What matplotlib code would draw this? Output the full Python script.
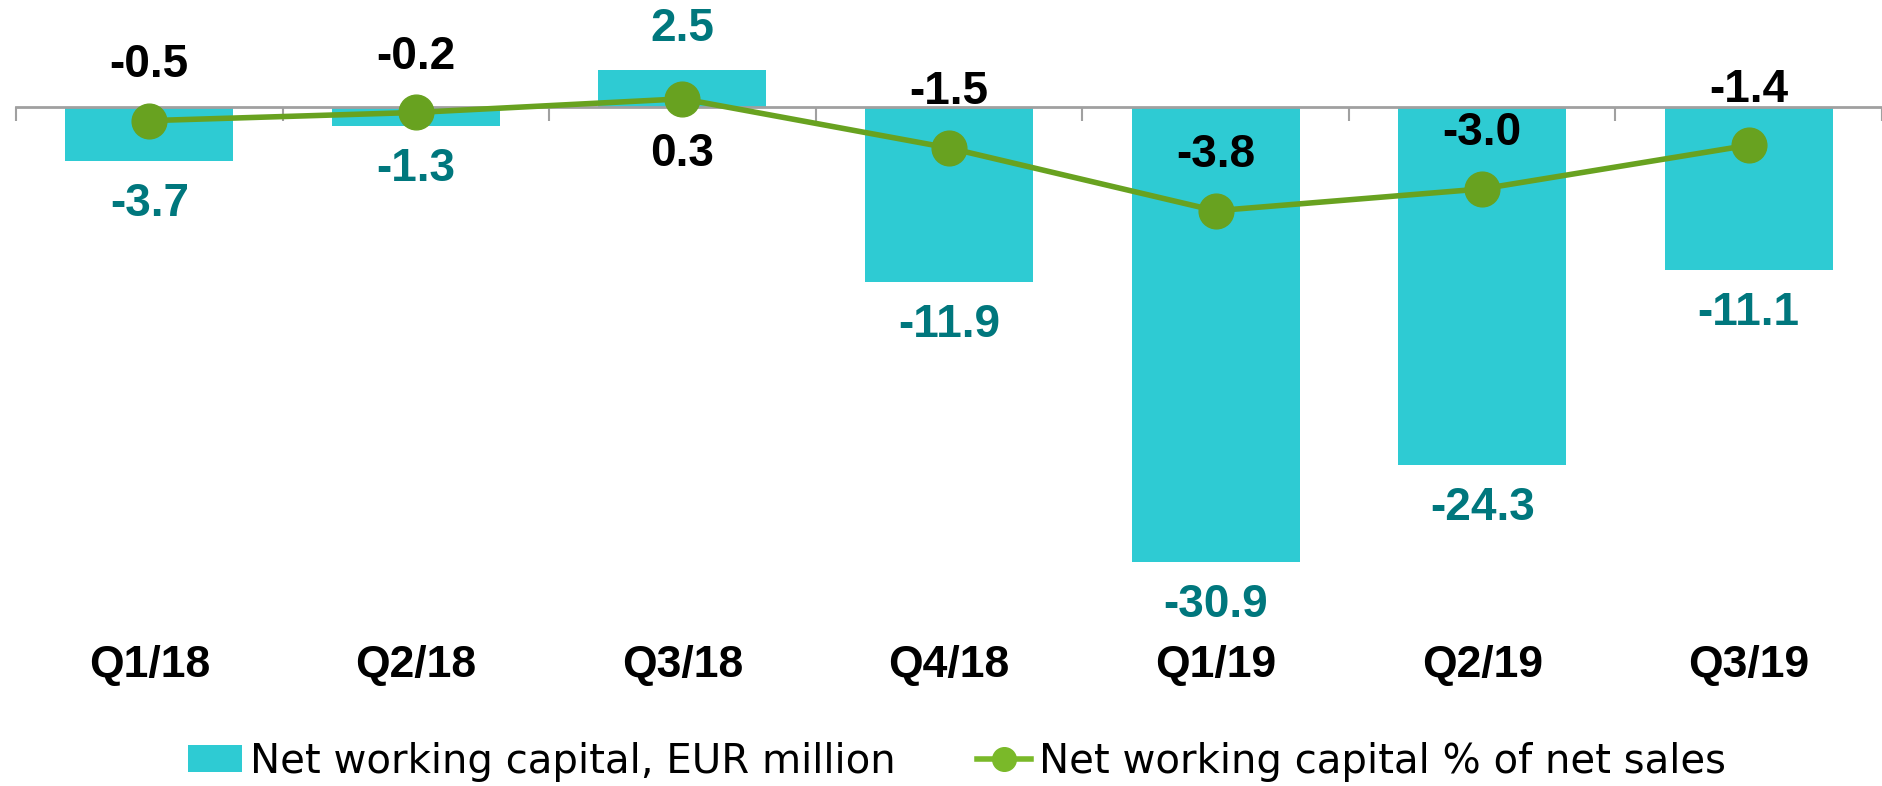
import numpy as np
import matplotlib.pyplot as plt
from matplotlib.lines import Line2D
from matplotlib.patches import Patch
from matplotlib.transforms import blended_transform_factory

quarters = ['Q1/18', 'Q2/18', 'Q3/18', 'Q4/18', 'Q1/19', 'Q2/19', 'Q3/19']
nwc_eur = [-3.7, -1.3, 2.5, -11.9, -30.9, -24.3, -11.1]
nwc_pct = [-0.5, -0.2, 0.3, -1.5, -3.8, -3.0, -1.4]

BAR_COLOR = '#2ECBD3'
BAR_LABEL = '#00777D'
LINE_COLOR = '#68A220'
AXIS_GRAY = '#A0A0A0'

plt.rcParams['font.family'] = ['Liberation Sans', 'DejaVu Sans']

fig = plt.figure(figsize=(18.82, 7.86), dpi=100)
W, H = 1882, 786
ax = fig.add_axes([16 / W, 1 - 600 / H, 1866 / W, 600 / H])
x = np.arange(len(quarters))

# primary axis: EUR million, zero line at ~107 px from top
ax.bar(x, nwc_eur, width=0.63, color=BAR_COLOR, zorder=2)
ax.set_xlim(-0.5, 6.46)
ax.set_ylim(-493 / 14.72, 107 / 14.72)

for s in ['top', 'left', 'right']:
    ax.spines[s].set_visible(False)
ax.spines['bottom'].set_position(('data', 0))
ax.spines['bottom'].set_color(AXIS_GRAY)
ax.spines['bottom'].set_linewidth(2)
ax.spines['bottom'].set_zorder(3)
ax.set_xticks(np.arange(-0.5, 7, 1))
ax.set_xticklabels([])
ax.tick_params(axis='x', direction='out', length=10, width=1.5, color=AXIS_GRAY)
ax.set_yticks([])

# bar value labels
for xi, v in zip(x, nwc_eur):
    if v >= 0:
        ax.annotate(f'{v:.1f}', (xi, v), xytext=(0, 14), textcoords='offset points',
                    ha='center', va='bottom', fontsize=33, fontweight='bold', color=BAR_LABEL)
    else:
        ax.annotate(f'{v:.1f}', (xi, v), xytext=(0, -15), textcoords='offset points',
                    ha='center', va='top', fontsize=33, fontweight='bold', color=BAR_LABEL)

# category labels at the bottom
trans = blended_transform_factory(ax.transData, fig.transFigure)
for xi, q in zip(x, quarters):
    ax.text(xi, 1 - 666 / H, q, transform=trans, ha='center', va='center',
            fontsize=32, fontweight='bold', color='black')

# secondary axis: % of net sales
ax2 = ax.twinx()
ax2.set_ylim(-493 / 27.3, 107 / 27.3)
for s in ax2.spines.values():
    s.set_visible(False)
ax2.set_yticks([])
ax2.plot(x, nwc_pct, color=LINE_COLOR, linewidth=4, marker='o', markersize=25, zorder=4)

for xi, v in zip(x, nwc_pct):
    dy = -40 if v > 0 else 40
    ax2.annotate(f'{v:.1f}', (xi, v), xytext=(0, dy), textcoords='offset points',
                 ha='center', va='center', fontsize=33, fontweight='bold', color='black')

handles = [
    Patch(facecolor=BAR_COLOR, edgecolor='none', label='Net working capital, EUR million'),
    Line2D([0], [0], color='#7AB929', linewidth=4, marker='o', markersize=17,
           label='Net working capital % of net sales'),
]
fig.legend(handles=handles, loc='center', bbox_to_anchor=(957 / W, 1 - 762 / H), ncol=2,
           frameon=False, prop={'family': 'DejaVu Sans', 'size': 29},
           handlelength=1.35, handleheight=0.65,
           handletextpad=0.2, columnspacing=2.0)

fig.savefig('out.png', dpi=100)
